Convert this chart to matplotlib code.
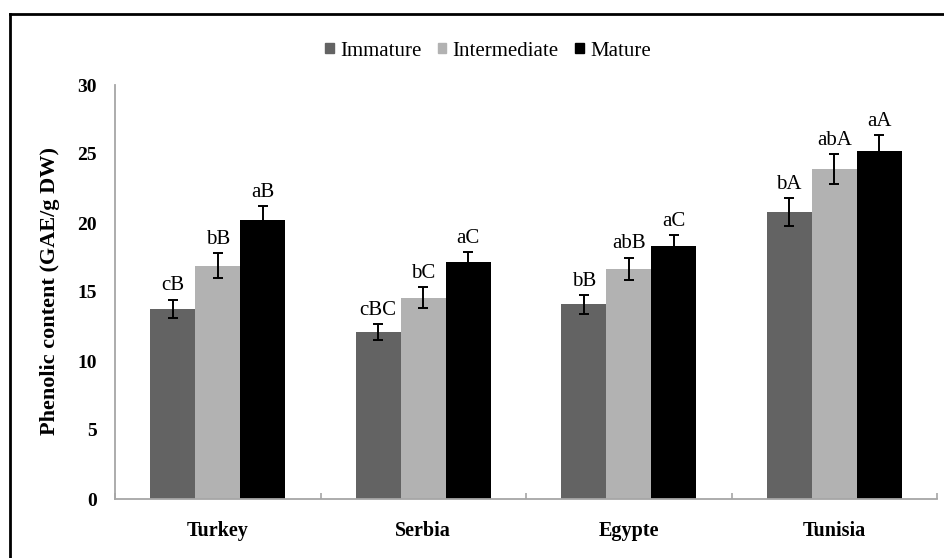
import numpy as np
import matplotlib
matplotlib.use('Agg')
import matplotlib.pyplot as plt
from matplotlib.patches import Patch
from matplotlib.lines import Line2D

# Data
countries = ['Turkey', 'Serbia', 'Egypte', 'Tunisia']
stages = ['Immature', 'Intermediate', 'Mature']

immature = [13.8, 12.1, 14.1, 20.8]
intermediate = [16.9, 14.6, 16.7, 23.9]
mature = [20.2, 17.2, 18.3, 25.2]

immature_err = [0.65, 0.6, 0.7, 1.0]
intermediate_err = [0.9, 0.75, 0.8, 1.1]
mature_err = [1.0, 0.7, 0.85, 1.15]

immature_lbl = ['cB', 'cBC', 'bB', 'bA']
intermediate_lbl = ['bB', 'bC', 'abB', 'abA']
mature_lbl = ['aB', 'aC', 'aC', 'aA']

colors = ['#636363', '#b2b2b2', '#000000']

plt.rcParams['font.family'] = 'Liberation Serif'

W, H = 944, 558
fig = plt.figure(figsize=(W / 100, H / 100), dpi=100)
ax = fig.add_axes([115 / W, 1 - 499 / H, 822 / W, 414 / H])

x = np.arange(len(countries))
width = 0.219
series = [(immature, immature_err, immature_lbl),
          (intermediate, intermediate_err, intermediate_lbl),
          (mature, mature_err, mature_lbl)]

for i, (vals, errs, lbls) in enumerate(series):
    pos = x + (i - 1) * width
    ax.bar(pos, vals, width, color=colors[i], label=stages[i], zorder=2)
    ax.errorbar(pos, vals, yerr=errs, fmt='none', ecolor='black',
                elinewidth=1.4, capsize=3.8, capthick=1.4, zorder=3)
    for p, v, e, t in zip(pos, vals, errs, lbls):
        ax.annotate(t, (p, v + e), xytext=(0, 3), textcoords='offset points',
                    ha='center', va='bottom', fontsize=15)

ax.set_xlim(-0.5, len(countries) - 0.5)
ax.set_ylim(0, 30)
ax.set_yticks([0, 5, 10, 15, 20, 25, 30])
ax.tick_params(axis='y', length=0, pad=13, labelsize=14)
for t in ax.get_yticklabels():
    t.set_fontweight('bold')

ax.set_xticks(x)
ax.set_xticklabels(countries, fontsize=14.5, fontweight='bold')
ax.tick_params(axis='x', which='major', length=0, pad=16)
ax.set_xticks(np.arange(-0.5, len(countries)), minor=True)
ax.tick_params(axis='x', which='minor', direction='in', length=4,
               color='#a6a6a6', width=1.2)

for s in ['top', 'right']:
    ax.spines[s].set_visible(False)
for s in ['left', 'bottom']:
    ax.spines[s].set_color('#a6a6a6')
    ax.spines[s].set_linewidth(1.3)

fig.text(50 / W, 1 - 291 / H, 'Phenolic content (GAE/g DW)', rotation=90,
         ha='center', va='center', fontsize=16, fontweight='bold')

handles = [Patch(facecolor=c, edgecolor=c, label=s) for c, s in zip(colors, stages)]
fig.legend(handles=handles, loc='center', bbox_to_anchor=(488 / W, 1 - 51 / H),
           ncol=3, frameon=False, fontsize=15, handlelength=0.4,
           handleheight=0.4, handletextpad=0.3, columnspacing=0.8)

# outer frame (cropped at right and bottom)
fig.add_artist(Line2D([10 / W, 10 / W], [0, 1 - 14 / H], color='black', lw=2,
                      transform=fig.transFigure))
fig.add_artist(Line2D([10 / W, 1], [1 - 14 / H, 1 - 14 / H], color='black', lw=2,
                      transform=fig.transFigure))

fig.savefig('out.png', dpi=100)
